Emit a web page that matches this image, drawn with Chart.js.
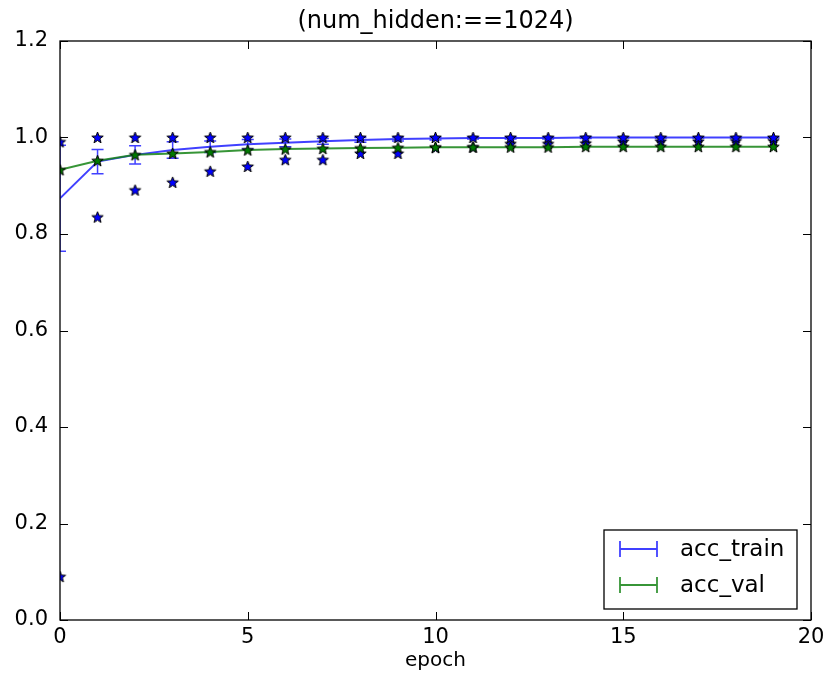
<!DOCTYPE html>
<html>
<head>
<meta charset="utf-8">
<script src="https://cdn.jsdelivr.net/npm/chart.js@4/dist/chart.umd.min.js"></script>
<style>
  html, body { margin: 0; padding: 0; background: #fff; }
  #wrap { width: 824px; height: 673px; }
</style>
</head>
<body>
<div id="wrap"><canvas id="c" width="824" height="673"></canvas></div>
<script>
// ---- data ----
const epochs     = [0, 1, 2, 3, 4, 5, 6, 7, 8, 9, 10, 11, 12, 13, 14, 15, 16, 17, 18, 19];
const trainMean  = [0.874, 0.950, 0.964, 0.974, 0.981, 0.986, 0.989, 0.992, 0.995, 0.997, 0.998, 0.999, 0.999, 0.999, 1.000, 1.000, 1.000, 1.000, 1.000, 1.000];
const trainStd   = [0.110, 0.025, 0.019, 0.017, 0.012, 0.010, 0.008, 0.006, 0.005, 0.004, 0.003, 0.002, 0.002, 0.002, 0.002, 0.001, 0.001, 0.001, 0.001, 0.001];
const trainMax   = [0.991, 1.000, 1.000, 1.000, 1.000, 1.000, 1.000, 1.000, 1.000, 1.000, 1.000, 1.000, 1.000, 1.000, 1.000, 1.000, 1.000, 1.000, 1.000, 1.000];
const trainMin   = [0.090, 0.835, 0.891, 0.907, 0.930, 0.940, 0.954, 0.954, 0.967, 0.967, 0.979, 0.980, 0.987, 0.987, 0.988, 0.992, 0.992, 0.992, 0.993, 0.993];
const valMean    = [0.933, 0.952, 0.964, 0.967, 0.970, 0.974, 0.976, 0.977, 0.978, 0.979, 0.980, 0.980, 0.980, 0.980, 0.981, 0.981, 0.981, 0.981, 0.981, 0.981];
const valStd     = [0, 0, 0, 0, 0, 0, 0, 0, 0, 0, 0, 0, 0, 0, 0, 0, 0, 0, 0, 0];
const xTicks     = [0, 5, 10, 15, 20];
const yTicks     = [0.0, 0.2, 0.4, 0.6, 0.8, 1.0, 1.2];
const seriesNames = ['acc_train', 'acc_val'];
const titleText  = '(num_hidden:==1024)';
const xLabel     = 'epoch';

// ---- styles ----
const BLUE_LINE = 'rgba(30,30,255,0.85)';
const GREEN_LINE = 'rgba(20,130,20,0.85)';
const FONT = "'DejaVu Sans', sans-serif";

function makeStar(fill) {
  const s = 15, c = document.createElement('canvas');
  c.width = s; c.height = s;
  const g = c.getContext('2d');
  const R = 6.0, r = 2.5, cx = s / 2, cy = s / 2 + 0.5;
  g.beginPath();
  for (let i = 0; i < 10; i++) {
    const rad = i % 2 === 0 ? R : r;
    const a = -Math.PI / 2 + i * Math.PI / 5;
    const px = cx + rad * Math.cos(a), py = cy + rad * Math.sin(a);
    if (i === 0) g.moveTo(px, py); else g.lineTo(px, py);
  }
  g.closePath();
  g.fillStyle = fill; g.fill();
  g.lineWidth = 1; g.strokeStyle = '#000'; g.stroke();
  return c;
}
const blueStar = makeStar('#0000ff');
const greenStar = makeStar('#007a00');

const pts = arr => epochs.map((e, i) => ({ x: e, y: arr[i] }));

const errorBars = {
  id: 'errorBars',
  beforeDatasetsDraw(chart) {
    const { ctx, scales: { x, y }, chartArea } = chart;
    ctx.save();
    ctx.beginPath();
    ctx.rect(chartArea.left, chartArea.top, chartArea.right - chartArea.left, chartArea.bottom - chartArea.top);
    ctx.clip();
    const draw = (mean, std, color) => {
      ctx.strokeStyle = color; ctx.lineWidth = 1.5;
      epochs.forEach((e, i) => {
        if (!std[i]) return;
        const px = x.getPixelForValue(e);
        const y1 = y.getPixelForValue(mean[i] + std[i]);
        const y2 = y.getPixelForValue(mean[i] - std[i]);
        ctx.beginPath();
        ctx.moveTo(px, y1); ctx.lineTo(px, y2);
        ctx.moveTo(px - 6, y1); ctx.lineTo(px + 6, y1);
        ctx.moveTo(px - 6, y2); ctx.lineTo(px + 6, y2);
        ctx.stroke();
      });
    };
    draw(trainMean, trainStd, BLUE_LINE);
    draw(valMean, valStd, GREEN_LINE);
    ctx.restore();
  }
};

const frame = {
  id: 'frame',
  afterDraw(chart) {
    const { ctx, scales: { x, y }, chartArea: a } = chart;
    ctx.save();
    // title
    ctx.fillStyle = '#000';
    ctx.font = '24px ' + FONT;
    ctx.textAlign = 'center';
    ctx.textBaseline = 'middle';
    ctx.fillText(titleText, (a.left + a.right) / 2, a.top - 19);

    ctx.strokeStyle = '#000'; ctx.lineWidth = 1.3;
    ctx.strokeRect(a.left, a.top, a.right - a.left, a.bottom - a.top);
    ctx.lineWidth = 1;
    const L = 8;
    ctx.beginPath();
    xTicks.forEach(v => {
      const px = Math.round(x.getPixelForValue(v)) + 0.5;
      ctx.moveTo(px, a.bottom); ctx.lineTo(px, a.bottom - L);
      ctx.moveTo(px, a.top); ctx.lineTo(px, a.top + L);
    });
    yTicks.forEach(v => {
      const py = Math.round(y.getPixelForValue(v)) + 0.5;
      ctx.moveTo(a.left, py); ctx.lineTo(a.left + L, py);
      ctx.moveTo(a.right, py); ctx.lineTo(a.right - L, py);
    });
    ctx.stroke();

    // legend
    const w = 193, h = 79;
    const lx = a.right - 14 - w, ly = a.bottom - 11 - h;
    ctx.fillStyle = '#fff';
    ctx.fillRect(lx, ly, w, h);
    ctx.strokeStyle = '#000'; ctx.lineWidth = 1.3;
    ctx.strokeRect(lx, ly, w, h);
    const colors = [BLUE_LINE, GREEN_LINE];
    seriesNames.forEach((name, i) => {
      const cy = ly + 19 + i * 36;
      const x1 = lx + 16, x2 = lx + 53;
      ctx.strokeStyle = colors[i]; ctx.lineWidth = 1.8;
      ctx.beginPath();
      ctx.moveTo(x1, cy); ctx.lineTo(x2, cy);
      ctx.moveTo(x1, cy - 8); ctx.lineTo(x1, cy + 8);
      ctx.moveTo(x2, cy - 8); ctx.lineTo(x2, cy + 8);
      ctx.stroke();
      ctx.fillStyle = '#000';
      ctx.font = '23px ' + FONT;
      ctx.textBaseline = 'middle';
      ctx.textAlign = 'left';
      ctx.fillText(name, lx + 76, cy + 1);
    });
    ctx.restore();
  }
};

new Chart(document.getElementById('c'), {
  type: 'line',
  data: {
    datasets: [
      { label: 'val_pts', data: pts(valMean), showLine: false, pointStyle: greenStar, pointRadius: 6, order: 1 },
      { label: 'train_max', data: pts(trainMax), showLine: false, pointStyle: blueStar, pointRadius: 6, order: 2 },
      { label: 'train_min', data: pts(trainMin), showLine: false, pointStyle: blueStar, pointRadius: 6, order: 3 },
      { label: seriesNames[1], data: pts(valMean), borderColor: GREEN_LINE, borderWidth: 2, pointRadius: 0, tension: 0, fill: false, order: 4 },
      { label: seriesNames[0], data: pts(trainMean), borderColor: BLUE_LINE, borderWidth: 2, pointRadius: 0, tension: 0, fill: false, order: 5 }
    ]
  },
  options: {
    responsive: false,
    animation: false,
    devicePixelRatio: 1,
    layout: { padding: { left: 0, right: 13, top: 41, bottom: 0 } },
    plugins: {
      legend: { display: false },
      tooltip: { enabled: false },
      title: { display: false }
    },
    scales: {
      x: {
        type: 'linear', min: 0, max: 20,
        afterBuildTicks: s => { s.ticks = xTicks.map(v => ({ value: v })); },
        grid: { display: false, drawTicks: false },
        border: { display: false },
        ticks: { color: '#000', padding: 5, font: { family: FONT, size: 21 }, maxRotation: 0 },
        title: { display: true, text: xLabel, color: '#000', font: { family: FONT, size: 20 }, padding: { top: 0, bottom: 0 } },
        afterFit: s => { s.height = 53; s.paddingLeft = 0; s.paddingRight = 0; }
      },
      y: {
        type: 'linear', min: 0, max: 1.2,
        afterBuildTicks: s => { s.ticks = yTicks.map(v => ({ value: v })); },
        grid: { display: false, drawTicks: false },
        border: { display: false },
        ticks: { color: '#000', padding: 12, font: { family: FONT, size: 21 }, callback: v => Number(v).toFixed(1) },
        afterFit: s => { s.width = 60; s.paddingTop = 0; s.paddingBottom = 0; }
      }
    }
  },
  plugins: [errorBars, frame]
});
</script>
</body>
</html>
